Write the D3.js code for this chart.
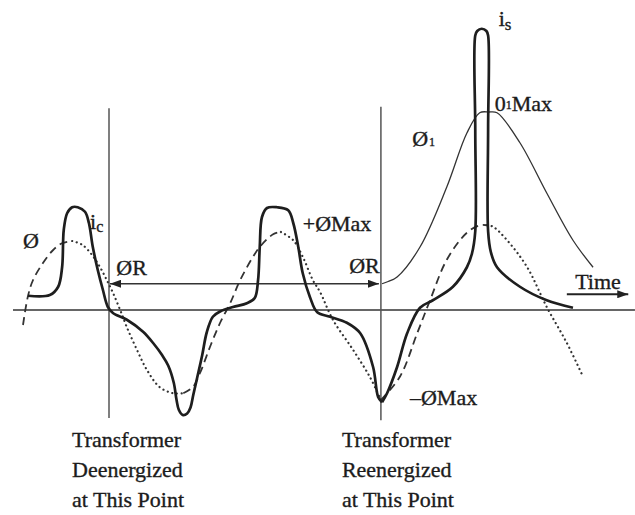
<!DOCTYPE html>
<html>
<head>
<meta charset="utf-8">
<script src="https://cdn.jsdelivr.net/npm/d3@7/dist/d3.min.js"></script>
<style>
  body { margin: 0; background: #fff; }
  svg { display: block; }
  text { font-family: "Liberation Serif", "Times New Roman", serif; fill: #1c1c1c; stroke: #1c1c1c; stroke-width: 0.35px; }
</style>
</head>
<body>
<div id="chart"></div>
<script>
// angle in electrical degrees (0 = transformer deenergized), flux / current in per unit
const switch_angles = [0, 487];
const residual_flux = 0.35;

// exciting current i_e up to the reenergizing point
const i_e = [[-145,0.19],[-106,0.2],[-91,0.31],[-84,0.57],[-81,1.07],[-75,1.29],[-66,1.37],[-56,1.37],
    [-43,1.31],[-36,1.16],[-29,0.84],[-20,0.53],[-11,0.27],[-2,0.04],[7,-0.04],[32,-0.13],[61,-0.29],
    [79,-0.44],[95,-0.6],[106,-0.74],[116,-0.97],[121,-1.2],[125,-1.33],[132,-1.4],[140,-1.38],
    [146,-1.3],[151,-1.13],[158,-0.9],[167,-0.6],[175,-0.3],[186,-0.09],[199,-0.02],[222,0.04],
    [247,0.09],[261,0.16],[267,0.4],[270,0.84],[274,1.24],[283,1.36],[301,1.37],[321,1.33],
    [330,1.16],[339,0.84],[347,0.49],[360,0.17],[373,-0.03],[396,-0.09],[426,-0.17],[450,-0.31],
    [473,-0.76],[482,-1.16],[489,-1.23]];

// inrush current i_s after reenergizing
const i_s = [[489,-1.23],[498,-1.11],[516,-0.76],[534,-0.31],[557,0.03],[580,0.13],[616,0.31],
    [641,0.57],[650,0.75],[656,1.05],[656,2.4],[656,3.66],[659.5,3.72],[667.5,3.75],[676,3.72],
    [679,3.66],[679,2.4],[679,1.05],[684,0.77],[695,0.57],[736,0.31],[784,0.13],[831,0.03]];

// flux Ø, rising parts (dashed)
const phi_rising = [
    [[-154,-0.2],[-145,0.19],[-136,0.4],[-118,0.63],[-100,0.8],[-84,0.89],[-66,0.92]],
    [[133,-1.11],[150,-1.03],[163,-0.84],[181,-0.49],[199,-0.17],[217,0.09],[235,0.4],[258,0.71],
     [270,0.84],[294,1.01],[308,1.04]],
    [[487,-1.2],[521,-0.89],[552,-0.31],[575,0.13],[605,0.67],[641,1.03],[664,1.13],[677,1.13]]
];

// flux Ø, falling parts (dotted)
const phi_falling = [
    [[-66,0.92],[-48,0.87],[-30,0.73],[-16,0.57],[-4,0.4],[7,0.23],[20,0],[32,-0.23],[50,-0.53],
     [68,-0.8],[91,-1.03],[115,-1.11],[133,-1.11]],
    [[308,1.04],[330,0.93],[347,0.71],[365,0.4],[378,0.24],[401,-0.13],[437,-0.53],[467,-0.89],
     [487,-1.2]],
    [[677,1.13],[688,1.11],[713,0.93],[749,0.57],[784,0.04],[820,-0.44],[849,-0.89]]
];

// flux Ø1 after reenergizing with residual flux
const phi_1 = [[489,0.35],[500,0.38],[516,0.44],[557,0.84],[605,1.64],[641,2.36],[664,2.63],
    [680,2.64],[695,2.63],[736,2.23],[784,1.56],[831,0.93],[867,0.57]];

const axis_extent = [-172, 942];

const width = 635, height = 515;

const x = d3.scaleLinear().domain([0, 360]).range([109, 310]);
const y = d3.scaleLinear().domain([0, 1]).range([310, 235]);

const svg = d3.select("#chart").append("svg")
    .attr("width", width)
    .attr("height", height);

const defs = svg.append("defs");
defs.append("marker")
    .attr("id", "arrow")
    .attr("markerUnits", "userSpaceOnUse")
    .attr("markerWidth", 12).attr("markerHeight", 8)
    .attr("refX", 11).attr("refY", 4)
    .attr("orient", "auto-start-reverse")
    .append("path")
    .attr("d", "M0,0 L11,4 L0,8 Z")
    .attr("fill", "#222");

const line = d3.line()
    .x(function (d) { return x(d[0]); })
    .y(function (d) { return y(d[1]); })
    .curve(d3.curveCatmullRom.alpha(0.5));

// time axis
svg.append("line")
    .attr("x1", x(axis_extent[0])).attr("x2", x(axis_extent[1]))
    .attr("y1", y(0)).attr("y2", y(0))
    .attr("stroke", "#333").attr("stroke-width", 1.6);

// switching instants
svg.selectAll(".switch")
    .data(switch_angles)
    .enter().append("line")
    .attr("class", "switch")
    .attr("x1", function (d) { return x(d); })
    .attr("x2", function (d) { return x(d); })
    .attr("y1", function (d, i) { return y(i === 0 ? 2.69 : 2.71); })
    .attr("y2", function (d, i) { return y(i === 0 ? -1.44 : -1.47); })
    .attr("stroke", "#555").attr("stroke-width", 1.5);

// residual flux arrow
svg.append("line")
    .attr("x1", x(switch_angles[0]) + 1).attr("x2", x(switch_angles[1]) - 2)
    .attr("y1", y(residual_flux)).attr("y2", y(residual_flux))
    .attr("stroke", "#333").attr("stroke-width", 1.5)
    .attr("marker-start", "url(#arrow)")
    .attr("marker-end", "url(#arrow)");

// time arrow
svg.append("line")
    .attr("x1", x(820)).attr("x2", x(930))
    .attr("y1", y(0.21)).attr("y2", y(0.21))
    .attr("stroke", "#222").attr("stroke-width", 1.8)
    .attr("marker-end", "url(#arrow)");

// flux curves
svg.selectAll(".rise")
    .data(phi_rising)
    .enter().append("path")
    .attr("class", "rise")
    .attr("d", line)
    .attr("fill", "none")
    .attr("stroke", "#333")
    .attr("stroke-width", 1.8)
    .attr("stroke-dasharray", "8,5");

svg.selectAll(".fall")
    .data(phi_falling)
    .enter().append("path")
    .attr("class", "fall")
    .attr("d", line)
    .attr("fill", "none")
    .attr("stroke", "#333")
    .attr("stroke-width", 2.2)
    .attr("stroke-linecap", "round")
    .attr("stroke-dasharray", "0.1,4.6");

svg.append("path")
    .datum(phi_1)
    .attr("d", line)
    .attr("fill", "none")
    .attr("stroke", "#333")
    .attr("stroke-width", 1.3);

// currents
svg.selectAll(".current")
    .data([i_e, i_s])
    .enter().append("path")
    .attr("class", "current")
    .attr("d", line)
    .attr("fill", "none")
    .attr("stroke", "#1e1e1e")
    .attr("stroke-width", 2.7)
    .attr("stroke-linejoin", "round");

// labels
function label(t, v, anchor) {
    return svg.append("text")
        .attr("x", x(t)).attr("y", y(v))
        .attr("text-anchor", anchor || "start")
        .style("font-size", "22px");
}

label(-154, 0.83).text("Ø");
const ie = label(-34, 1.08);
ie.append("tspan").text("i");
ie.append("tspan").attr("dy", 3).style("font-size", "16px").text("c");
label(13, 0.47).text("ØR");
label(347, 1.05).text("+ØMax");
label(485, 0.49, "end").text("ØR");
const p1 = label(543, 2.19);
p1.append("tspan").text("Ø");
p1.append("tspan").attr("dx", 1).style("font-size", "12px").text("1");
const p1m = label(691, 2.65);
p1m.append("tspan").text("0");
p1m.append("tspan").attr("dy", -2).style("font-size", "12px").text("1");
p1m.append("tspan").attr("dy", 2).text("Max");
const is = label(698, 3.79);
is.append("tspan").text("i");
is.append("tspan").attr("dy", 4).style("font-size", "17px").text("s");
label(835, 0.28).text("Time");
label(539, -1.27).text("–ØMax");

const captions = [
    ["Transformer", "Deenergized", "at This Point"],
    ["Transformer", "Reenergized", "at This Point"]
];
captions.forEach(function (lines, i) {
    const left = x(switch_angles[i]) - (i === 0 ? 37 : 39);
    const t = svg.append("text")
        .attr("x", left)
        .attr("y", 447)
        .style("font-size", "22px");
    lines.forEach(function (s, j) {
        t.append("tspan")
            .attr("x", left)
            .attr("dy", j === 0 ? 0 : 30)
            .text(s);
    });
});
</script>
</body>
</html>
